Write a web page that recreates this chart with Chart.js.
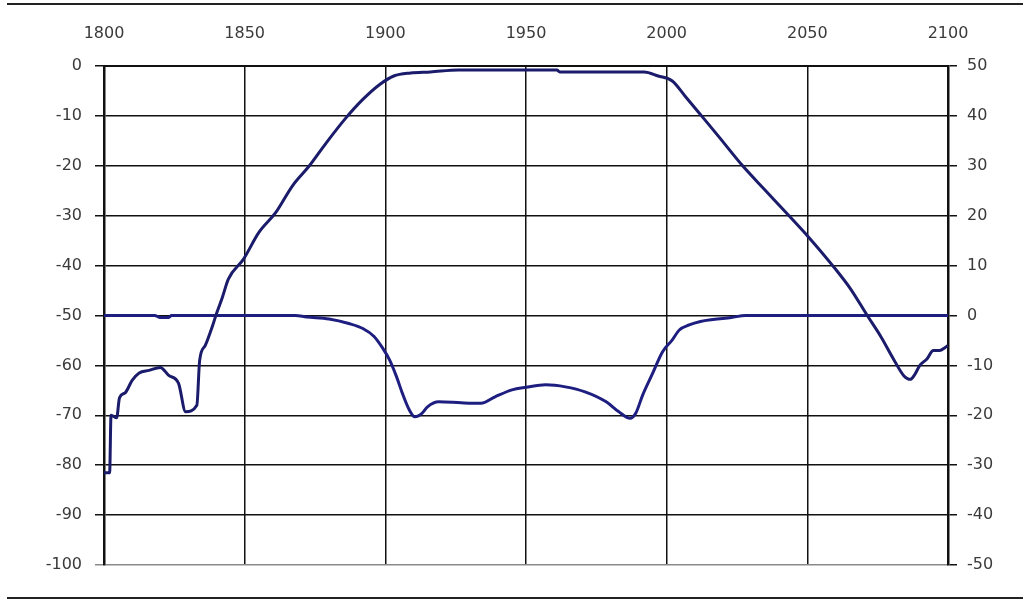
<!DOCTYPE html>
<html lang="en">
<head>
    <meta charset="utf-8">
    <script src="https://cdn.jsdelivr.net/npm/chart.js@4.4.0/dist/chart.umd.min.js"></script>
    <style>
        html, body { margin: 0; padding: 0; background: #fff; }
        .wrap { position: relative; width: 1023px; height: 600px; }
        .rule { position: absolute; left: 7px; right: 0; height: 2px; background: #222; }
    </style>
</head>
<body>
<div class="wrap">
    <canvas id="myChart" width="1023" height="600"></canvas>
    <div class="rule" style="top:3px"></div>
    <div class="rule" style="top:597px"></div>
</div>

<script>
    // frequency axis (top) and the two level axes
    var xTicks = [1800, 1850, 1900, 1950, 2000, 2050, 2100];
    var leftTicks = [0, -10, -20, -30, -40, -50, -60, -70, -80, -90, -100];
    var rightTicks = [50, 40, 30, 20, 10, 0, -10, -20, -30, -40, -50];

    // transmission curve, left axis
    var s21Freq = [1800, 1802, 1802.5, 1804.5, 1805.5, 1807.5, 1810, 1812.5, 1816, 1820, 1823, 1826.5, 1829, 1833, 1834,
        1836, 1838.5, 1840, 1842, 1844.2, 1849.6, 1855, 1861, 1867, 1873, 1879, 1886, 1892, 1898, 1903, 1909, 1916,
        1926, 1961, 1962, 1992, 1997, 2002, 2006.5, 2013, 2018.3, 2027, 2034.7, 2043, 2050, 2059, 2065.4, 2071.3,
        2076, 2080.6, 2084.2, 2086.6, 2088, 2090, 2092.5, 2094.8, 2097, 2099, 2100];
    var s21Level = [-81.5, -81.5, -70, -70.5, -66.5, -65.5, -63, -61.5, -61, -60.4, -62, -63.6, -69.3, -68, -59,
        -56, -52.2, -49.6, -46.5, -42.7, -38.7, -33.4, -29.4, -24, -20, -15.4, -10.4, -6.7, -3.7, -2, -1.4, -1.2,
        -0.8, -0.8, -1.2, -1.2, -2, -3, -6, -10.4, -14, -20, -24.7, -29.7, -34, -40, -44.7, -50,
        -54.1, -58.7, -62, -62.8, -62, -60, -58.7, -57, -57, -56.4, -56];

    // reflection curve, right axis
    var s11Freq = [1800, 1818, 1820, 1823, 1824, 1868, 1872, 1880, 1887, 1892, 1896, 1899, 1901.5, 1904, 1906, 1908.5,
        1910.5, 1913, 1915, 1919, 1927, 1934, 1939, 1945, 1950, 1957, 1964, 1971, 1978.5, 1983, 1987, 1989, 1991.5,
        1995, 1998.5, 2002, 2004.5, 2008, 2012, 2016.5, 2023, 2028, 2100];
    var s11Level = [0, 0, -0.4, -0.4, 0, 0, -0.3, -0.7, -1.6, -2.6, -4.2, -6.5, -8.9, -12.3, -15.5, -18.9,
        -20.3, -19.6, -18.3, -17.3, -17.5, -17.6, -16.3, -14.9, -14.4, -13.9, -14.3, -15.3, -17.3, -19.3, -20.6, -19.6, -15.9,
        -11.6, -7.3, -4.9, -2.9, -1.9, -1.2, -0.8, -0.4, 0, 0];

    function pairs(xs, ys) {
        var out = [];
        for (var i = 0; i < xs.length; i++) out.push({x: xs[i], y: ys[i]});
        return out;
    }

    function plain(v) { return String(v); }

    var labelFont = {family: "'DejaVu Sans', Arial, sans-serif", size: 16};
    var labelColor = '#3a3a3a';

    var ctx = document.getElementById("myChart").getContext("2d");
    var myChart = new Chart(ctx, {
        type: 'line',
        data: {
            datasets: [{
                label: 'S21',
                data: pairs(s21Freq, s21Level),
                yAxisID: 'y',
                borderColor: '#1b1b6b',
                borderWidth: 3,
                pointRadius: 0,
                cubicInterpolationMode: 'monotone'
            }, {
                label: 'S11',
                data: pairs(s11Freq, s11Level),
                yAxisID: 'y2',
                borderColor: '#1e1e80',
                borderWidth: 3,
                pointRadius: 0,
                cubicInterpolationMode: 'monotone'
            }]
        },
        options: {
            responsive: false,
            animation: false,
            layout: {padding: {left: 0, right: 0, top: 0, bottom: 35}},
            plugins: {legend: {display: false}, tooltip: {enabled: false}},
            scales: {
                x: {
                    type: 'linear',
                    position: 'top',
                    min: xTicks[0],
                    max: xTicks[xTicks.length - 1],
                    afterBuildTicks: function (s) { s.ticks = xTicks.map(function (v) { return {value: v}; }); },
                    afterFit: function (s) { s.height = 66; },
                    grid: {color: '#111', lineWidth: 1.5, drawTicks: false},
                    border: {color: '#111', width: 2},
                    ticks: {font: labelFont, color: labelColor, padding: 23, maxRotation: 0, callback: plain}
                },
                y: {
                    position: 'left',
                    min: -100,
                    max: 0,
                    afterBuildTicks: function (s) { s.ticks = leftTicks.map(function (v) { return {value: v}; }); },
                    afterFit: function (s) { s.width = 104; },
                    grid: {
                        color: function (c) { return c.tick && c.tick.value === -100 ? '#8a8a8a' : '#111'; },
                        lineWidth: 1.5,
                        tickLength: 9
                    },
                    border: {color: '#111', width: 2.5},
                    ticks: {font: labelFont, color: labelColor, padding: 13, callback: plain}
                },
                y2: {
                    position: 'right',
                    min: -50,
                    max: 50,
                    afterBuildTicks: function (s) { s.ticks = rightTicks.map(function (v) { return {value: v}; }); },
                    afterFit: function (s) { s.width = 75; },
                    grid: {drawOnChartArea: false, color: '#111', lineWidth: 1.5, tickLength: 9},
                    border: {color: '#111', width: 2.5},
                    ticks: {font: labelFont, color: labelColor, padding: 10, callback: plain}
                }
            }
        }
    });
</script>
</body>
</html>
